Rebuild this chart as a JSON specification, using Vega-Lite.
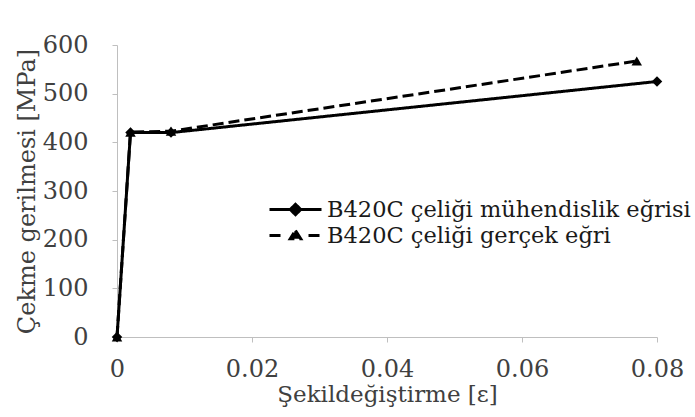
{
  "$schema": "https://vega.github.io/schema/vega-lite/v6.json",
  "width": 540,
  "height": 292,
  "autosize": {"type": "none"},
  "padding": {"left": 117, "top": 45, "right": 38, "bottom": 80},
  "background": "white",
  "config": {
    "view": {"stroke": null},
    "font": "DejaVu Serif",
    "axis": {
      "grid": false,
      "domainColor": "#bfbfbf",
      "tickColor": "#bfbfbf",
      "tickSize": 5,
      "domainWidth": 1,
      "labelFont": "DejaVu Serif",
      "titleFont": "DejaVu Serif",
      "labelColor": "#404040",
      "titleColor": "#404040",
      "labelFontSize": 24,
      "titleFontSize": 23,
      "titleFontWeight": "normal"
    }
  },
  "data": {
    "values": [
      {"series": "B420C çeliği mühendislik eğrisi", "strain": 0, "stress": 0},
      {"series": "B420C çeliği mühendislik eğrisi", "strain": 0.002, "stress": 420},
      {"series": "B420C çeliği mühendislik eğrisi", "strain": 0.008, "stress": 420},
      {"series": "B420C çeliği mühendislik eğrisi", "strain": 0.08, "stress": 525},
      {"series": "B420C çeliği gerçek eğri", "strain": 0, "stress": 0},
      {"series": "B420C çeliği gerçek eğri", "strain": 0.002, "stress": 421},
      {"series": "B420C çeliği gerçek eğri", "strain": 0.008, "stress": 423},
      {"series": "B420C çeliği gerçek eğri", "strain": 0.077, "stress": 567}
    ]
  },
  "encoding": {
    "x": {
      "field": "strain", "type": "quantitative",
      "scale": {"domain": [0, 0.08], "nice": false, "zero": false},
      "axis": {"values": [0, 0.02, 0.04, 0.06, 0.08], "format": "~g", "title": "Şekildeğiştirme [ε]", "labelPadding": 15, "titlePadding": 2, "labelFlush": false}
    },
    "y": {
      "field": "stress", "type": "quantitative",
      "scale": {"domain": [0, 600], "nice": false},
      "axis": {"values": [0, 100, 200, 300, 400, 500, 600], "title": "Çekme gerilmesi [MPa]", "labelPadding": 24, "titlePadding": 3, "titleFontSize": 24}
    }
  },
  "layer": [
    {
      "mark": {"type": "line", "color": "black", "strokeWidth": 3},
      "encoding": {
        "strokeDash": {
          "field": "series", "type": "nominal",
          "scale": {"domain": ["B420C çeliği mühendislik eğrisi", "B420C çeliği gerçek eğri"], "range": [[1, 0], [11, 5]]},
          "legend": {
            "title": null,
            "orient": "none",
            "legendX": 164,
            "legendY": 150,
            "padding": 0,
            "symbolSize": 676,
            "symbolStrokeWidth": 3,
            "symbolStrokeColor": "black",
            "symbolFillColor": "black",
            "labelFont": "DejaVu Serif",
            "labelFontSize": 22.5,
            "labelColor": "#1a1a1a",
            "labelOffset": 17,
            "labelLimit": 0,
            "rowPadding": 0
          }
        }
      }
    },
    {
      "transform": [{"filter": "datum.series == 'B420C çeliği gerçek eğri'"}],
      "mark": {"type": "point", "shape": "triangle-up", "filled": true, "color": "black", "opacity": 1, "size": 110}
    },
    {
      "transform": [{"filter": "datum.series == 'B420C çeliği mühendislik eğrisi'"}],
      "mark": {"type": "point", "shape": "diamond", "filled": true, "color": "black", "opacity": 1, "size": 110}
    },
    {
      "mark": {"type": "point", "filled": false, "fill": "black", "stroke": "black", "color": "black", "strokeWidth": 3, "opacity": 0},
      "encoding": {
        "shape": {
          "field": "series", "type": "nominal",
          "scale": {
            "domain": ["B420C çeliği mühendislik eğrisi", "B420C çeliği gerçek eğri"],
            "range": [
              "M-2,0L2,0M0,-0.4L0.4,0L0,0.4L-0.4,0Z",
              "M-2,0L-1,0M1,0L2,0M0,-0.38L0.4,0.25L-0.4,0.25Z"
            ]
          },
          "legend": {
            "title": null,
            "orient": "none",
            "legendX": 164,
            "legendY": 150
          }
        }
      }
    }
  ]
}
